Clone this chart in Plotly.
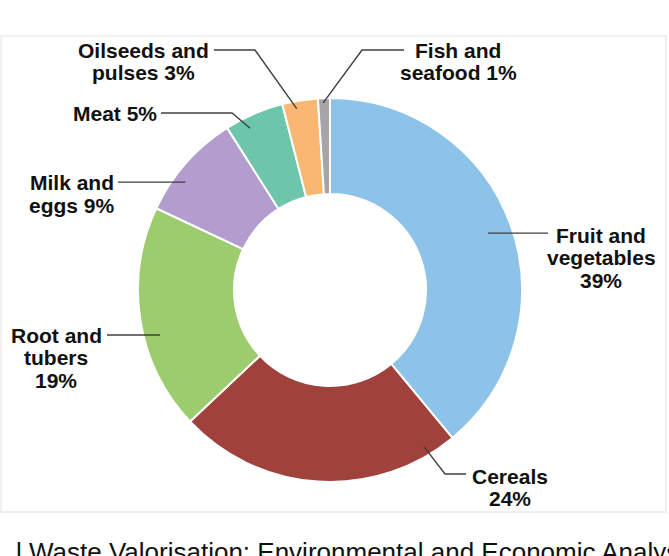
import math
import plotly.graph_objects as go

# ---- data ----
categories = ["Fruit and vegetables", "Cereals", "Root and tubers", "Milk and eggs",
              "Meat", "Oilseeds and pulses", "Fish and seafood"]
shares = [39, 24, 19, 9, 5, 3, 1]
label_lines = [
    ["Fruit and", "vegetables", "39%"],
    ["Cereals", "24%"],
    ["Root and", "tubers", "19%"],
    ["Milk and", "eggs 9%"],
    ["Meat 5%"],
    ["Oilseeds and", "pulses 3%"],
    ["Fish and", "seafood 1%"],
]
colors = ["#8DC3E9", "#A0413B", "#9DCC6F", "#B39DCF", "#6DC5AA", "#FAB673", "#A5A5A8"]

W, H = 669, 556
CX, CY, R = 330, 290, 192  # pie centre / radius in pixels


def px(x):
    return x / W


def py(y):
    return 1 - y / H


fig = go.Figure()
fig.add_trace(go.Pie(
    labels=categories, values=shares, sort=False, direction="clockwise", rotation=0,
    hole=0.5, textinfo="none", hoverinfo="label+percent",
    marker=dict(colors=colors, line=dict(color="white", width=2)),
    domain=dict(x=[px(CX - R), px(CX + R)], y=[py(CY + R), py(CY - R)]),
    showlegend=False,
))

# label placement: centre x and first-line centre y (pixels); line step
label_pos = [(601, 235), (510, 476), (56, 335), (72, 183), (115, 113), (143, 50), (458, 50)]
LINE_STEP = 22.8
# (fraction within slice, radius fraction) for inner end of leader line
inner_spec = [(0.5, 0.875), (0.1, 0.953), (0.415, 0.916), (0.355, 0.94), (0.34, 0.94),
              (0.37, 0.96), (0.42, 0.975)]
# outer path points (pixels): from label side to the elbow
outer_pts = [
    [(548, None)],
    [(466, 474), (445, 474)],
    [(107, None)],
    [(118, None)],
    [(161, 113), (232, 113)],
    [(214, 50), (255, 50)],
    [(404, 50), (362, 50)],
]

total = sum(shares)
cum = 0
shapes = []
for i, v in enumerate(shares):
    a0 = cum / total * 360
    a1 = (cum + v) / total * 360
    cum += v
    f, rf = inner_spec[i]
    ang = math.radians(a0 + f * (a1 - a0))
    ix = CX + rf * R * math.sin(ang)
    iy = CY - rf * R * math.cos(ang)
    pts = [(x, iy if y is None else y) for x, y in outer_pts[i]] + [(ix, iy)]
    path = "M " + " L ".join(f"{px(x):.5f},{py(y):.5f}" for x, y in pts)
    shapes.append(dict(type="path", path=path, xref="paper", yref="paper",
                       line=dict(color="#3f3f3f", width=1.4)))

# faint frame
shapes.append(dict(type="rect", xref="paper", yref="paper",
                   x0=px(1), x1=px(666), y0=py(512), y1=py(36),
                   line=dict(color="#ebebeb", width=1.5), layer="below"))

annotations = []
for (lx, ly), lines in zip(label_pos, label_lines):
    for k, t in enumerate(lines):
        annotations.append(dict(x=px(lx), y=py(ly + k * LINE_STEP), xref="paper", yref="paper",
                                text=t, showarrow=False, xanchor="center", yanchor="middle",
                                align="center",
                                font=dict(family="Liberation Sans, Arial, sans-serif",
                                          size=21, color="#111111", weight="bold")))

annotations.append(dict(x=px(14), y=py(535), xref="paper", yref="paper",
                        text="l Waste Valorisation: Environmental and Economic Analysis",
                        showarrow=False, xanchor="left", yanchor="top", align="left",
                        font=dict(family="Liberation Sans, Arial, sans-serif",
                                  size=26, color="#111111")))

fig.update_layout(
    width=W, height=H, margin=dict(l=0, r=0, t=0, b=0),
    paper_bgcolor="white", plot_bgcolor="white",
    shapes=shapes, annotations=annotations,
)

fig.write_html("out.html")
